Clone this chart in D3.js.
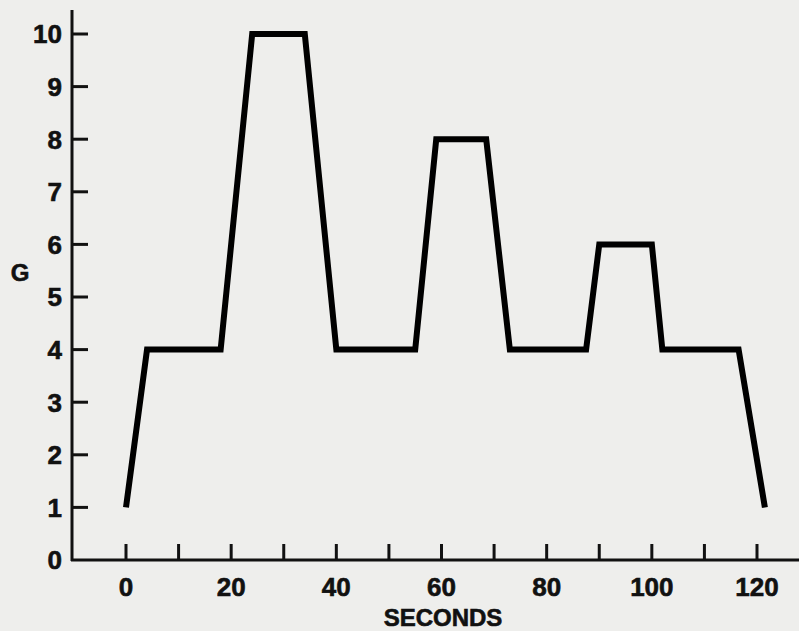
<!DOCTYPE html>
<html>
<head>
<meta charset="utf-8">
<script src="https://d3js.org/d3.v7.min.js"></script>
<style>
  body { margin:0; background:#eeeeec; }
  .lbl { font-family:"Liberation Sans", Arial, sans-serif; font-weight:bold; fill:#111; stroke:#111; stroke-width:0.6px; }
</style>
</head>
<body>
<svg id="chart" width="799" height="631"></svg>
<script>
  // G profile (seconds, G)
  var seconds = [0, 4, 18, 24, 34, 40, 55, 59, 68.5, 73, 87.5, 90, 100, 102, 116.5, 121.5];
  var gLevels = [1, 4, 4, 10, 10, 4, 4, 8, 8, 4, 4, 6, 6, 4, 4, 1];
  var xTicks = [0, 10, 20, 30, 40, 50, 60, 70, 80, 90, 100, 110, 120];
  var xTickLabels = [0, 20, 40, 60, 80, 100, 120];
  var yTicks = [0, 1, 2, 3, 4, 5, 6, 7, 8, 9, 10];

  var svg = d3.select('#chart');

  var x = d3.scaleLinear().domain([0, 120]).range([126, 757]);
  var y = d3.scaleLinear().domain([0, 10]).range([560, 34]);

  // axes lines
  svg.append('line').attr('x1', 72).attr('x2', 72).attr('y1', 10).attr('y2', 561)
     .attr('stroke', '#111').attr('stroke-width', 3);
  svg.append('line').attr('x1', 71).attr('x2', 799).attr('y1', 560).attr('y2', 560)
     .attr('stroke', '#111').attr('stroke-width', 3);

  // y ticks + labels
  svg.selectAll('.yt').data(yTicks.filter(function(d){ return d > 0; })).enter().append('line')
     .attr('x1', 72).attr('x2', 88)
     .attr('y1', function(d){ return y(d); }).attr('y2', function(d){ return y(d); })
     .attr('stroke', '#111').attr('stroke-width', 3);
  svg.selectAll('.yl').data(yTicks).enter().append('text')
     .attr('class', 'lbl')
     .attr('x', 62).attr('y', function(d){ return y(d); })
     .attr('dy', '0.36em').attr('text-anchor', 'end')
     .style('font-size', '26px')
     .text(function(d){ return d; });

  // x ticks + labels
  svg.selectAll('.xt').data(xTicks).enter().append('line')
     .attr('x1', function(d){ return x(d); }).attr('x2', function(d){ return x(d); })
     .attr('y1', 544).attr('y2', 560)
     .attr('stroke', '#111').attr('stroke-width', 3);
  svg.selectAll('.xl').data(xTickLabels).enter().append('text')
     .attr('class', 'lbl')
     .attr('x', function(d){ return x(d); }).attr('y', 587)
     .attr('dy', '0.36em').attr('text-anchor', 'middle')
     .style('font-size', '26px')
     .text(function(d){ return d; });

  // axis titles
  svg.append('text').attr('class', 'lbl').attr('x', 20).attr('y', 272)
     .attr('dy', '0.36em').attr('text-anchor', 'middle').style('font-size', '24px').text('G');
  svg.append('text').attr('class', 'lbl').attr('x', 443).attr('y', 617)
     .attr('dy', '0.36em').attr('text-anchor', 'middle').style('font-size', '24px').text('SECONDS');

  // profile line
  var line = d3.line()
     .x(function(d){ return x(d[0]); })
     .y(function(d){ return y(d[1]); });
  svg.append('path')
     .datum(d3.zip(seconds, gLevels))
     .attr('d', line)
     .attr('fill', 'none')
     .attr('stroke', '#000')
     .attr('stroke-width', 6)
     .attr('stroke-linejoin', 'miter');
</script>
</body>
</html>
